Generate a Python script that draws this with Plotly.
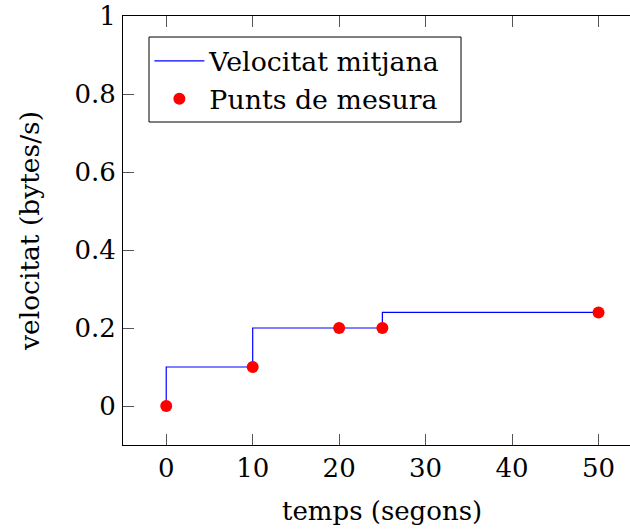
import plotly.graph_objects as go

# Data
step_x = [0, 10, 25, 50]
step_y = [0, 0.1, 0.2, 0.24]
meas_x = [0, 10, 20, 25, 50]
meas_y = [0, 0.1, 0.2, 0.2, 0.24]
x_ticks = [0, 10, 20, 30, 40, 50]
y_ticks = [0, 0.2, 0.4, 0.6, 0.8, 1]
y_tick_labels = ["0", "0.2", "0.4", "0.6", "0.8", "1"]
x_title = "temps (segons)"
y_title = "velocitat (bytes/s)"

FONT = "'DejaVu Serif', 'Liberation Serif', serif"
FS = 26

fig = go.Figure()
fig.add_trace(go.Scatter(x=step_x, y=step_y, mode="lines", line=dict(color="#0000ff", width=1.2, shape="vh"),
                         name="Velocitat mitjana"))
fig.add_trace(go.Scatter(x=meas_x, y=meas_y, mode="markers", marker=dict(color="#ff0000", size=12),
                         name="Punts de mesura"))

fig.update_layout(
    width=630, height=530,
    margin=dict(l=123, r=0, t=16, b=85),
    plot_bgcolor="white", paper_bgcolor="white",
    font=dict(family=FONT, size=FS, color="black"),
    showlegend=True,
    legend=dict(x=0.052, y=0.951, xanchor="left", yanchor="top",
                borderwidth=0, bgcolor="rgba(0,0,0,0)",
                font=dict(family=FONT, size=26.8), itemwidth=50, tracegroupgap=0),
    xaxis=dict(range=[-5, 53.64], tickvals=x_ticks, ticks="inside", ticklen=11, tickcolor="#555555",
               showline=True, linecolor="black", linewidth=1, mirror="ticks", showgrid=False, zeroline=False,
               tickfont=dict(size=26)),
    yaxis=dict(range=[-0.1, 1.0], tickvals=y_ticks, ticktext=y_tick_labels, ticks="inside", ticklen=11,
               tickcolor="#555555", showline=True, linecolor="black", linewidth=1, mirror=False,
               showgrid=False, zeroline=False, ticklabelstandoff=1, tickfont=dict(size=26),
               title=dict(text=y_title, standoff=27, font=dict(size=26.5))),
    shapes=[dict(type="rect", xref="paper", yref="paper", x0=0.0513, x1=0.6667, y0=0.7529, y1=0.951,
                 line=dict(color="black", width=1), fillcolor="rgba(0,0,0,0)", layer="above")],
    annotations=[dict(text=x_title, xref="paper", yref="paper", x=0.5118, y=-0.1538,
                      xanchor="center", yanchor="middle", showarrow=False, font=dict(size=26))],
)

fig.write_html("out.html")
